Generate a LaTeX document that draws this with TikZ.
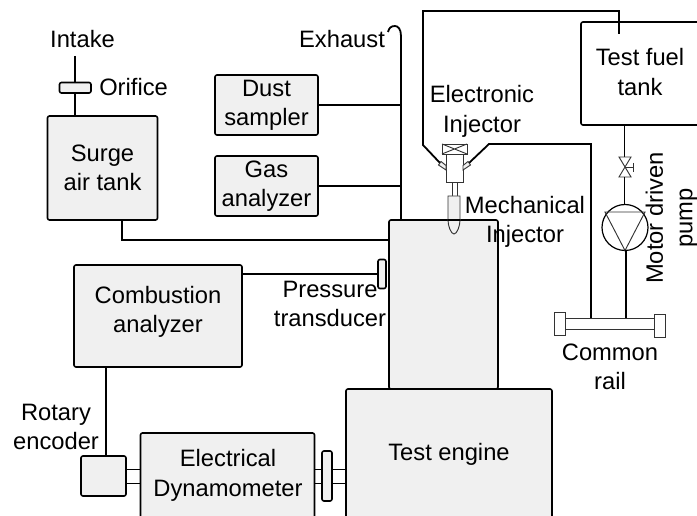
\documentclass[tikz,border=0pt]{standalone}
\usepackage{fontspec}
\setmainfont{Liberation Sans}
\def\u{0.75pt}
\definecolor{boxfill}{HTML}{F0F0F0}
\tikzset{
  ln/.style={line width=1.35pt,black},
  thinln/.style={line width=0.7pt,black!80},
  box/.style={draw=black,line width=1.2pt,fill=boxfill,rounded corners=1.5pt,inner sep=0pt,outer sep=0pt,align=center,anchor=north west},
  part/.style={draw=black!80,line width=0.7pt,inner sep=0pt,outer sep=0pt,anchor=north west},
  lab/.style={inner sep=0pt,align=center,font=\fontsize{17.8}{22}\selectfont},
  boxtext/.style={font=\fontsize{17.8}{22}\selectfont},
}
\begin{document}
\begin{tikzpicture}[x=0.75pt,y=-0.75pt]
\clip (0,0) rectangle (697,516);
% boxes
\node[box,boxtext,minimum width=110*\u,minimum height=104*\u] (surge) at (47.5,116) {Surge\\air tank};
\node[box,boxtext,minimum width=103*\u,minimum height=60*\u] (dust) at (215,75) {Dust\\sampler};
\node[box,boxtext,minimum width=103*\u,minimum height=60*\u] (gas) at (215,156) {Gas\\analyzer};
\node[box,minimum width=168*\u,minimum height=102*\u] (comb) at (74,265) {};
\node[box,minimum width=109*\u,minimum height=169*\u] (cyl) at (389,220) {};
\node[box,minimum width=206*\u,minimum height=150*\u] (engine) at (346,389) {};
\node[box,minimum width=174*\u,minimum height=110*\u] (dyno) at (140.5,433) {};
\node[box,minimum width=45*\u,minimum height=40*\u] (enc) at (81,456) {};
\node[box,minimum width=10*\u,minimum height=50*\u] (fly) at (322,451) {};
\node[box,minimum width=8*\u,minimum height=29*\u] (trans) at (378,259.5) {};
\node[box,minimum width=31.5*\u,minimum height=10.5*\u] (orif) at (59.5,82.5) {};
\node[box,fill=white,minimum width=116*\u+10pt,minimum height=103*\u] (tank) at (581,22) {};
% labels
\node[lab] (intake) at (82.5,39) {Intake};
\node[lab,anchor=west] (orifl) at (99,87) {Orifice};
\node[lab] (exh) at (342,39) {Exhaust};
\node[lab] (combl) at (158,312) {Combustion\\analyzer};
\node[lab] (transl) at (330,304) {Pressure\\transducer};
\node[lab] (encl) at (56,427) {Rotary\\encoder};
\node[lab] (dynol) at (228,475.5) {Electrical\\Dynamometer};
\node[lab] (engl) at (449,454) {Test engine};
\node[lab] (tankl) at (640,72) {Test fuel\\tank};
\node[lab] (einj) at (482,111.5) {Electronic\\Injector};
\node[lab] (minj) at (525,222) {Mechanical\\Injector};
\node[lab] (raill) at (610,366.5) {Common\\rail};
\node[lab,rotate=90] (motor) at (671.5,218) {Motor driven\\pump};
% coordinates
\coordinate (intop) at (75,56);
\coordinate (exend) at (388,32);
\coordinate (exjoin) at (401,220);
\coordinate (a1) at (122,240);
\coordinate (fl1) at (423,11);
\coordinate (fl2) at (619,11);
\coordinate (fl3) at (619,34);
\coordinate (fl4) at (423,145);
\coordinate (fl5) at (440,163);
\coordinate (fr1) at (469,163);
\coordinate (fr2) at (489,144);
\coordinate (fr3) at (591,144);
\coordinate (fr4) at (591,318);
% air and signal lines
\draw[ln] (intop) -- (orif.north -| intop);
\draw[ln] (orif.south -| intop) -- (surge.north -| intop);
\draw[ln] (surge.south -| a1) -- (a1) -- (a1 -| cyl.west);
\draw[ln] (exjoin) -- (401,36) .. controls (401,29) and (398,26) .. (395,26) .. controls (391,26) and (389,28) .. (exend);
\draw[ln] (dust.east) -- (dust.east -| exjoin);
\draw[ln] (gas.east) -- (gas.east -| exjoin);
\draw[ln] (comb.east |- trans.west) -- (trans.west);
\draw[ln] (106,367) -- (enc.north -| 106,0);
% shafts
\draw[thinln,black] (enc.east |- 0,469) -- (dyno.west |- 0,469);
\draw[thinln,black] (enc.east |- 0,483) -- (dyno.west |- 0,483);
\draw[thinln,black] (dyno.east |- 0,469) -- (fly.west |- 0,469);
\draw[thinln,black] (dyno.east |- 0,483) -- (fly.west |- 0,483);
\draw[thinln,black] (fly.east |- 0,469) -- (engine.west |- 0,469);
\draw[thinln,black] (fly.east |- 0,483) -- (engine.west |- 0,483);
% fuel lines
\draw[ln] (fl3) -- (fl2) -- (fl1) -- (fl4) -- (fl5);
\draw[ln] (fr1) -- (fr2) -- (fr3) -- (fr4);
% valve and pump
\node[draw=black,line width=0.9pt,circle,minimum size=46*\u,inner sep=0pt,outer sep=0pt] (pump) at (625,227.5) {};
\coordinate (v1) at (624.5,157);
\coordinate (v2) at (624.5,177);
\draw[ln] (tank.south -| v1) -- (v1);
\draw[thinln] (v1) -- (619,157) -- (631,177) -- (619,177) -- (631,157) -- cycle;
\draw[thinln] (625,167) -- (633,167);
\draw[thinln] (633,163) -- (633,172);
\draw[ln] (v2) -- (pump.north -| v2);
\draw[thinln] (605,212) -- (645,212) -- (pump.south) -- cycle;
\coordinate (p1) at (626,318);
\draw[ln] (pump.south -| p1) -- (p1);
% rail
\node[part,minimum width=90*\u,minimum height=11*\u] (rail) at (565,318) {};
\node[part,fill=white,minimum width=11*\u,minimum height=23*\u] (capl) at (554.5,312) {};
\node[part,fill=white,minimum width=11*\u,minimum height=23*\u] (capr) at (654.5,314.5) {};
% injector
\node[part,minimum width=25*\u,minimum height=10*\u] (sol) at (442,144) {};
\draw[thinln] (sol.north west) -- (sol.south east) (sol.north east) -- (sol.south west);
\node[part,minimum width=17*\u,minimum height=28*\u] (body) at (446,154) {};
\node[part,minimum width=5*\u,minimum height=14*\u] (stem) at (452,182) {};
\draw[thinln,fill=boxfill] (448,196) -- (460,196) -- (460,220) .. controls (460,226) and (457,234) .. (454,234) .. controls (451,234) and (448,226) .. (448,220) -- cycle;
\draw[line width=1.2pt,black] (448,220) -- (460,220);
\draw[thinln,fill=boxfill] (438.5,165) -- (441,161.5) -- (446,165.5) -- (446,170) -- cycle;
\draw[thinln,fill=boxfill] (470.5,165) -- (468,161.5) -- (463,165.5) -- (463,170) -- cycle;
\end{tikzpicture}
\end{document}
